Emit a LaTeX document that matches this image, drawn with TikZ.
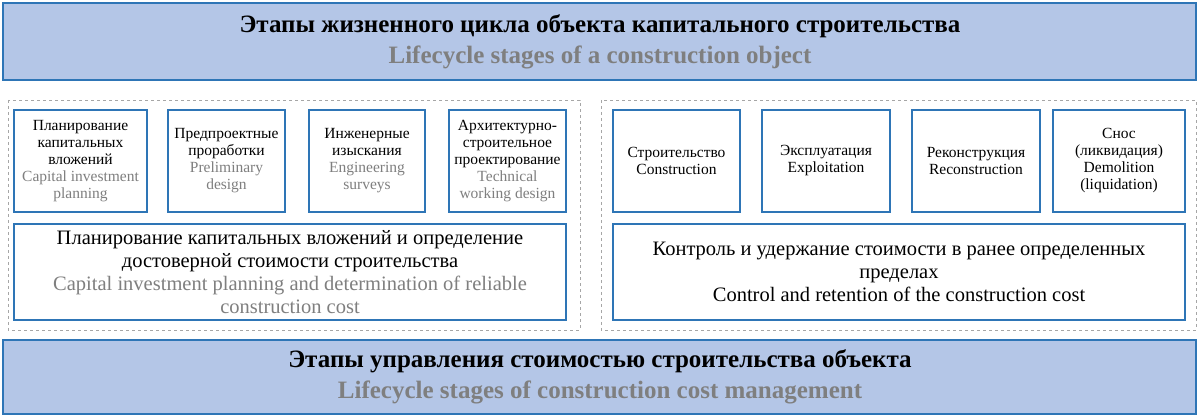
\documentclass[tikz,border=0pt]{standalone}
\usepackage{fontspec}
\setmainfont{Liberation Serif}
\definecolor{hdrfill}{HTML}{B4C6E7}
\definecolor{hdrline}{HTML}{2E75B6}
\definecolor{engtext}{HTML}{7F7F7F}
\tikzset{
	header/.style={draw=hdrline,line width=1.5pt,fill=hdrfill},%
	group/.style={draw=gray!70,dashed,thin},%
	stagebox/.style={draw=hdrline,line width=1.5pt,fill=white},%
	stagetext/.style={align=center,font=\fontsize{15.5}{17}\selectfont},%
	bigtext/.style={align=center,font=\fontsize{20.5}{23}\selectfont},%
	hdrtext/.style={align=center,font=\bfseries\fontsize{25}{31}\selectfont},%
}
\begin{document}
\begin{tikzpicture}[x=1pt,y=-1pt]
	\useasboundingbox (0,0) rectangle (1200,419);
	% headers
	\draw[header] (3,3) rectangle (1196,80);
	\node[hdrtext] (toptitle) at (600,42) {Этапы жизненного цикла объекта капитального строительства\\\textcolor{engtext}{Lifecycle stages of a construction object}};
	\draw[header] (3,340) rectangle (1196,414);
	\node[hdrtext] (bottomtitle) at (600,377) {Этапы управления стоимостью строительства объекта\\\textcolor{engtext}{Lifecycle stages of construction cost management}};
	% groups
	\draw[group] (8,100) rectangle (580,330);
	\draw[group] (601,100) rectangle (1196,330);
	% left stages
	\draw[stagebox] (14,110) rectangle (147,212);
	\node[stagetext] (plan) at (80.5,161) {Планирование\\капитальных\\вложений\\\textcolor{engtext}{Capital investment}\\\textcolor{engtext}{planning}};
	\draw[stagebox] (168,110) rectangle (285,212);
	\node[stagetext] (pre) at (226.5,161) {Предпроектные\\проработки\\\textcolor{engtext}{Preliminary}\\\textcolor{engtext}{design}};
	\draw[stagebox] (309,110) rectangle (425,212);
	\node[stagetext] (survey) at (367,161) {Инженерные\\изыскания\\\textcolor{engtext}{Engineering}\\\textcolor{engtext}{surveys}};
	\draw[stagebox] (449,110) rectangle (566,212);
	\node[stagetext] (arch) at (507.5,161) {Архитектурно-\\строительное\\проектирование\\\textcolor{engtext}{Technical}\\\textcolor{engtext}{working design}};
	\draw[stagebox] (14,224) rectangle (566,320);
	\node[bigtext] (planbig) at (290,272) {Планирование капитальных вложений и определение\\достоверной стоимости строительства\\\textcolor{engtext}{Capital investment planning and determination of reliable}\\\textcolor{engtext}{construction cost}};
	% right stages
	\draw[stagebox] (613,110) rectangle (740,212);
	\node[stagetext] (build) at (676.5,161) {Строительство\\Construction};
	\draw[stagebox] (762,110) rectangle (890,212);
	\node[stagetext] (exploit) at (826,161) {Эксплуатация\\Exploitation};
	\draw[stagebox] (912,110) rectangle (1040,212);
	\node[stagetext] (recon) at (976,161) {Реконструкция\\Reconstruction};
	\draw[stagebox] (1053,110) rectangle (1185,212);
	\node[stagetext] (demol) at (1119,161) {Снос\\(ликвидация)\\Demolition\\(liquidation)};
	\draw[stagebox] (613,224) rectangle (1185,320);
	\node[bigtext] (control) at (899,272) {Контроль и удержание стоимости в ранее определенных\\пределах\\Control and retention of the construction cost};
\end{tikzpicture}
\end{document}
